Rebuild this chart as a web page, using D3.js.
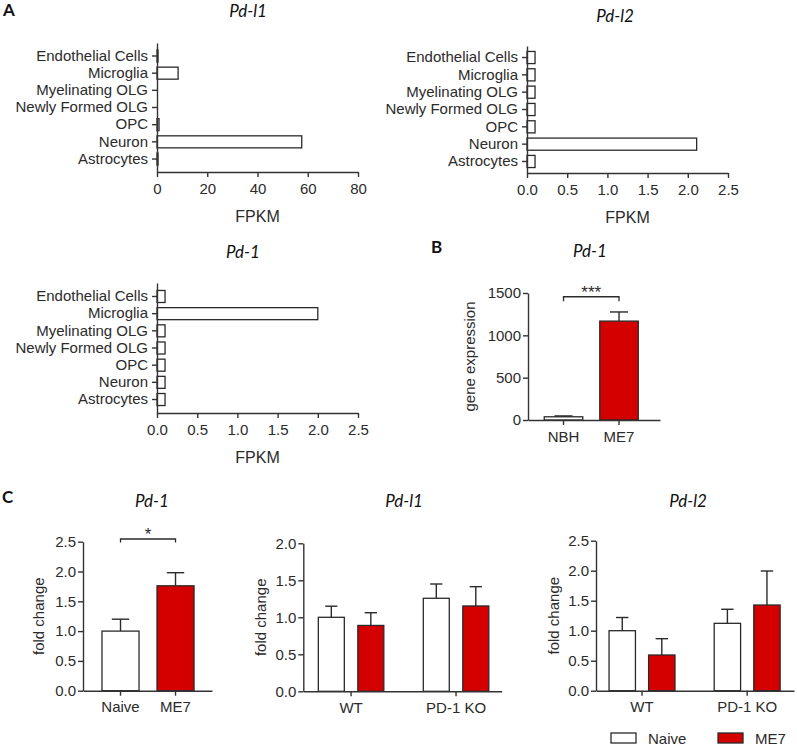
<!DOCTYPE html>
<html><head><meta charset="utf-8">
<script src="https://cdn.jsdelivr.net/npm/d3@7"></script>
<style>
body{margin:0;background:#fff}
text{font-family:"Liberation Sans",Arial,sans-serif;fill:#2b2b2b}
.title{font-family:Lato,"Open Sans",sans-serif;font-style:italic;font-size:17px;fill:#111}
.letter{font-family:Lato,"Open Sans",sans-serif;font-weight:700;font-size:17px;fill:#111}
</style>
</head><body><svg id="c" width="797" height="747"></svg>
<script>
// ---------------- DATA ----------------
const cellTypes = ["Endothelial Cells","Microglia","Myelinating OLG","Newly Formed OLG","OPC","Neuron","Astrocytes"];
const fpkmPdl1 = [0.4, 8.4, 0, 0, 0.8, 57.6, 0.4];
const fpkmPdl2 = [0.1, 0.1, 0.1, 0.1, 0.1, 2.11, 0.1];
const fpkmPd1  = [0.1, 2.0, 0.1, 0.1, 0.1, 0.1, 0.1];
const ticksFpkmLarge = [0, 20, 40, 60, 80];
const ticksFpkmSmall = [0, 0.5, 1.0, 1.5, 2.0, 2.5];

const bGroups = ["NBH", "ME7"];
const bMeans = [38, 1168];
const bErr = [10, 108];
const bTicks = [0, 500, 1000, 1500];
const bSig = "***";

const conditions = ["Naive", "ME7"];
const cPd1Means = [1.0, 1.76];
const cPd1Err = [0.2, 0.22];
const cPd1Sig = "*";
const genotypes = ["WT", "PD-1 KO"];
const cPdl1Naive = [1.0, 1.257];
const cPdl1NaiveErr = [0.15, 0.193];
const cPdl1Me7 = [0.89, 1.153];
const cPdl1Me7Err = [0.172, 0.261];
const cPdl2Naive = [1.0, 1.123];
const cPdl2NaiveErr = [0.22, 0.234];
const cPdl2Me7 = [0.595, 1.428];
const cPdl2Me7Err = [0.272, 0.567];
const ticks25 = [0, 0.5, 1.0, 1.5, 2.0, 2.5];
const ticks20 = [0, 0.5, 1.0, 1.5, 2.0];

// ---------------- STYLE ----------------
const RED = "#d40000", STROKE = "#2a2a2a", AXIS = "#333";
const fill = {"Naive": "#fff", "ME7": RED, "NBH": "#fff"};
const svg = d3.select("#c");

function styleAxis(g, fs) {
  g.selectAll("path.domain").attr("stroke", AXIS).attr("stroke-width", 1.4);
  g.selectAll(".tick line").attr("stroke", AXIS).attr("stroke-width", 1.4);
  g.selectAll(".tick text").attr("font-size", fs || 15).attr("fill", "#2b2b2b")
    .attr("font-family", '"Liberation Sans",Arial,sans-serif');
}

// ---------------- PANEL A (horizontal) ----------------
function hbar(cfg) {
  const x = d3.scaleLinear().domain([0, cfg.max]).range([cfg.x0, cfg.x0 + cfg.w]);
  const y = d3.scaleBand().domain(cellTypes).range([cfg.yTop, cfg.yBottom])
    .paddingInner(0.3).paddingOuter(cfg.po);
  const g = svg.append("g");
  g.selectAll("rect").data(cfg.values).join("rect")
    .attr("x", x(0)).attr("y", (d, i) => y(cellTypes[i]))
    .attr("width", d => x(d) - x(0)).attr("height", y.bandwidth())
    .attr("fill", "#fff").attr("stroke", d => d > 0 ? STROKE : "none").attr("stroke-width", 1.3);
  const ya = g.append("g").attr("transform", `translate(${cfg.x0},0)`)
    .call(d3.axisLeft(y).tickSize(5).tickPadding(4).tickSizeOuter(0));
  styleAxis(ya, 15);
  const xa = g.append("g").attr("transform", `translate(0,${cfg.yBottom})`)
    .call(d3.axisBottom(x).tickValues(cfg.ticks).tickFormat(cfg.fmt).tickSize(5).tickPadding(6).tickSizeOuter(0));
  styleAxis(xa, 15);
  g.append("text").attr("x", cfg.x0 + cfg.w / 2).attr("y", cfg.yBottom + 50)
    .attr("text-anchor", "middle").attr("font-size", 16).text("FPKM");
  g.append("text").attr("class", "title").attr("x", cfg.titleX).attr("y", cfg.titleY)
    .attr("text-anchor", "middle").text(cfg.title);
}

hbar({values: fpkmPdl1, max: 80, ticks: ticksFpkmLarge, fmt: d3.format("d"),
  x0: 157, w: 201, yTop: 43, yBottom: 172, po: 0.406, title: "Pd-l1", titleX: 248, titleY: 17});
hbar({values: fpkmPdl2, max: 2.5, ticks: ticksFpkmSmall, fmt: d3.format(".1f"),
  x0: 527, w: 201, yTop: 46, yBottom: 173, po: 0.315, title: "Pd-l2", titleX: 615, titleY: 22});
hbar({values: fpkmPd1, max: 2.5, ticks: ticksFpkmSmall, fmt: d3.format(".1f"),
  x0: 157, w: 201, yTop: 283, yBottom: 413, po: 0.435, title: "Pd-1", titleX: 243, titleY: 258});

// ---------------- vertical helpers ----------------
function errBar(g, cx, yTop, yErr, bw) {
  const cap = bw * 0.47;
  g.append("line").attr("x1", cx).attr("x2", cx).attr("y1", yTop).attr("y2", yErr)
    .attr("stroke", STROKE).attr("stroke-width", 1.4);
  g.append("line").attr("x1", cx - cap / 2).attr("x2", cx + cap / 2).attr("y1", yErr).attr("y2", yErr)
    .attr("stroke", STROKE).attr("stroke-width", 1.4);
}

function yAxisV(g, y, x0, ticks, fmt, label, labelX) {
  const ya = g.append("g").attr("transform", `translate(${x0},0)`)
    .call(d3.axisLeft(y).tickValues(ticks).tickFormat(fmt).tickSize(5).tickPadding(2).tickSizeOuter(0));
  styleAxis(ya, 15);
  const r = y.range();
  g.append("text").attr("transform", `translate(${labelX},${(r[0] + r[1]) / 2}) rotate(-90)`)
    .attr("text-anchor", "middle").attr("dy", "0.35em").attr("font-size", 15).text(label);
}

// ---------------- PANEL B ----------------
(function () {
  const g = svg.append("g");
  const x = d3.scaleBand().domain(bGroups).range([528, 660]).paddingInner(0.306).paddingOuter(0.342).align(0.428);
  const y = d3.scaleLinear().domain([0, 1500]).range([420, 293]);
  bGroups.forEach((k, i) => {
    g.append("rect").attr("x", x(k)).attr("y", y(bMeans[i])).attr("width", x.bandwidth())
      .attr("height", y(0) - y(bMeans[i])).attr("fill", fill[k]).attr("stroke", STROKE).attr("stroke-width", 1.3);
    errBar(g, x(k) + x.bandwidth() / 2, y(bMeans[i]), y(bMeans[i] + bErr[i]), x.bandwidth());
  });
  yAxisV(g, y, 528, bTicks, d3.format("d"), "gene expression", 470);
  const xa = g.append("g").attr("transform", "translate(0,420)")
    .call(d3.axisBottom(x).tickSize(5).tickPadding(6).tickSizeOuter(0));
  styleAxis(xa, 15);
  const c0 = x(bGroups[0]) + x.bandwidth() / 2, c1 = x(bGroups[1]) + x.bandwidth() / 2;
  const yb = y(1456);
  g.append("path").attr("d", `M${c0},${yb + 4.5}V${yb}H${c1}V${yb + 4.5}`)
    .attr("fill", "none").attr("stroke", STROKE).attr("stroke-width", 1.3);
  g.append("text").attr("x", (c0 + c1) / 2).attr("y", yb + 1.5).attr("text-anchor", "middle")
    .attr("font-size", 17).text(bSig);
  g.append("text").attr("class", "title").attr("x", 590).attr("y", 257).attr("text-anchor", "middle").text("Pd-1");
})();

// ---------------- PANEL C ----------------
(function () {
  const g = svg.append("g");
  const x = d3.scaleBand().domain(conditions).range([83, 212]).paddingInner(0.327).paddingOuter(0.336).align(0.514);
  const y = d3.scaleLinear().domain([0, 2.5]).range([690.7, 541.7]);
  conditions.forEach((k, i) => {
    g.append("rect").attr("x", x(k)).attr("y", y(cPd1Means[i])).attr("width", x.bandwidth())
      .attr("height", y(0) - y(cPd1Means[i])).attr("fill", fill[k]).attr("stroke", STROKE).attr("stroke-width", 1.3);
    errBar(g, x(k) + x.bandwidth() / 2, y(cPd1Means[i]), y(cPd1Means[i] + cPd1Err[i]), x.bandwidth());
  });
  yAxisV(g, y, 83, ticks25, d3.format(".1f"), "fold change", 39);
  const xa = g.append("g").attr("transform", "translate(0,690.7)")
    .call(d3.axisBottom(x).tickSize(5).tickPadding(6).tickSizeOuter(0));
  styleAxis(xa, 15);
  const c0 = x(conditions[0]) + x.bandwidth() / 2, c1 = x(conditions[1]) + x.bandwidth() / 2;
  const yb = y(2.545);
  g.append("path").attr("d", `M${c0},${yb + 3.5}V${yb}H${c1}V${yb + 3.5}`)
    .attr("fill", "none").attr("stroke", STROKE).attr("stroke-width", 1.3);
  g.append("text").attr("x", (c0 + c1) / 2).attr("y", yb + 1).attr("text-anchor", "middle")
    .attr("font-size", 17).text(cPd1Sig);
  g.append("text").attr("class", "title").attr("x", 152).attr("y", 507).attr("text-anchor", "middle").text("Pd-1");
})();

function grouped(cfg) {
  const g = svg.append("g");
  const x0 = d3.scaleBand().domain(genotypes).range([cfg.r0, cfg.r1])
    .paddingInner(cfg.pi).paddingOuter(cfg.po).align(cfg.align);
  const x1 = d3.scaleBand().domain(conditions).range([0, x0.bandwidth()]).paddingInner(cfg.ipi).paddingOuter(0);
  const y = d3.scaleLinear().domain([0, cfg.max]).range([cfg.y0, cfg.yTop]);
  const series = {"Naive": [cfg.naive, cfg.naiveErr], "ME7": [cfg.me7, cfg.me7Err]};
  genotypes.forEach((gt, i) => {
    conditions.forEach(k => {
      const v = series[k][0][i], e = series[k][1][i];
      const bx = x0(gt) + x1(k);
      g.append("rect").attr("x", bx).attr("y", y(v)).attr("width", x1.bandwidth())
        .attr("height", y(0) - y(v)).attr("fill", fill[k]).attr("stroke", STROKE).attr("stroke-width", 1.3);
      errBar(g, bx + x1.bandwidth() / 2, y(v), y(v + e), x1.bandwidth());
    });
  });
  yAxisV(g, y, cfg.r0, cfg.ticks, d3.format(".1f"), "fold change", cfg.labelX);
  const xa = g.append("g").attr("transform", `translate(0,${cfg.y0})`)
    .call(d3.axisBottom(x0).tickSize(5).tickPadding(6).tickSizeOuter(0));
  styleAxis(xa, 15);
  g.append("text").attr("class", "title").attr("x", cfg.titleX).attr("y", 507).attr("text-anchor", "middle").text(cfg.title);
}

grouped({r0: 303.3, r1: 501.7, pi: 0.376, po: 0.133, align: 0.538, ipi: 0.342,
  y0: 691.3, yTop: 543.3, max: 2.0, ticks: ticks20, labelX: 261,
  naive: cPdl1Naive, naiveErr: cPdl1NaiveErr, me7: cPdl1Me7, me7Err: cPdl1Me7Err,
  title: "Pd-l1", titleX: 404});
grouped({r0: 596, r1: 794, pi: 0.373, po: 0.128, align: 0.485, ipi: 0.333,
  y0: 690.7, yTop: 540.7, max: 2.5, ticks: ticks25, labelX: 554,
  naive: cPdl2Naive, naiveErr: cPdl2NaiveErr, me7: cPdl2Me7, me7Err: cPdl2Me7Err,
  title: "Pd-l2", titleX: 688});

// legend
const lg = svg.append("g");
const legX = [611, 718];
conditions.forEach((k, i) => {
  lg.append("rect").attr("x", legX[i]).attr("y", 733).attr("width", 25).attr("height", 10)
    .attr("fill", fill[k]).attr("stroke", STROKE).attr("stroke-width", 1.3);
  lg.append("text").attr("x", legX[i] + 37).attr("y", 744).attr("font-size", 15).text(k);
});

// panel letters
svg.append("text").attr("class", "letter").attr("x", 3).attr("y", 16).text("A");
svg.append("text").attr("class", "letter").attr("x", 431).attr("y", 253).text("B");
svg.append("text").attr("class", "letter").attr("x", 2).attr("y", 503).text("C");
</script>
</body></html>
